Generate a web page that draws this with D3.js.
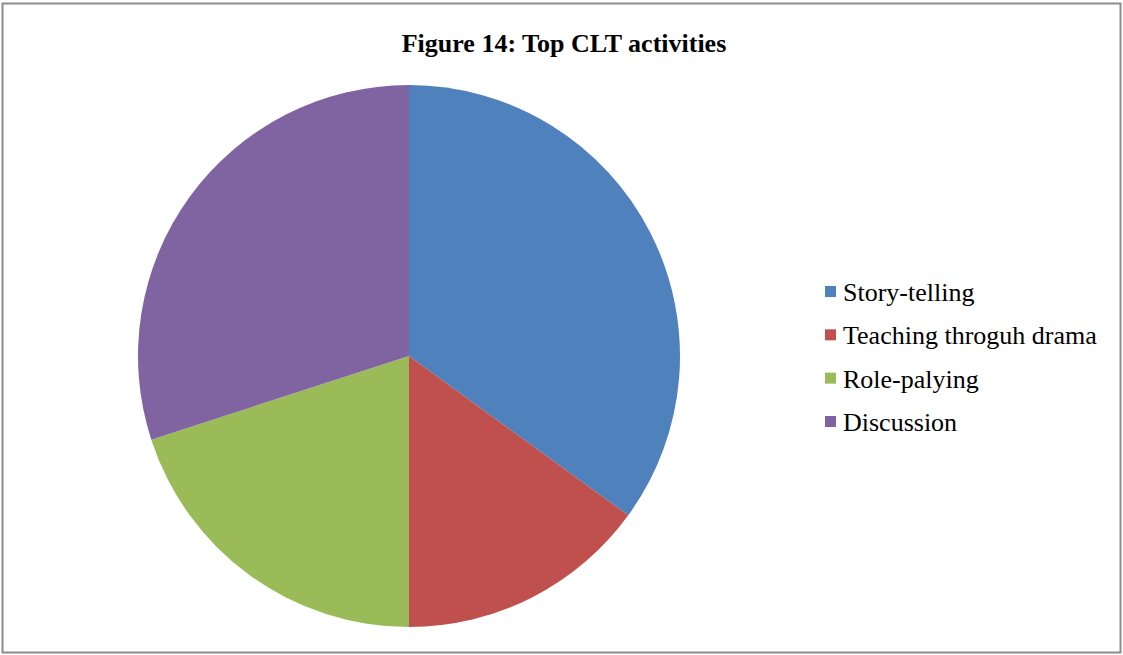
<!DOCTYPE html>
<html><head><meta charset="utf-8">
<script src="https://cdn.jsdelivr.net/npm/d3@7"></script>
<style>html,body{margin:0;padding:0;background:#fff;}</style>
</head><body>
<svg id="c" width="1123" height="655"></svg>
<script>
const categories = ["Story-telling","Teaching throguh drama","Role-palying","Discussion"];
const values = [35, 15, 20, 30];
const colors = ["#4F81BD","#C0504D","#9BBB59","#8064A2"];
const title = "Figure 14: Top CLT activities";

const FONT = "'Liberation Serif', 'Times New Roman', serif";
const svg = d3.select("#c");
svg.append("rect").attr("x",2.5).attr("y",3.5).attr("width",1118).attr("height",649)
  .attr("fill","#fff").attr("stroke","#8c8c8c").attr("stroke-width",2);

svg.append("text").attr("x",564).attr("y",52).attr("text-anchor","middle")
  .style("font-family",FONT).attr("font-weight","bold")
  .attr("font-size",26).attr("fill","#000").text(title);

const cx=409, cy=356, r=271;
const pie = d3.pie().sort(null).value(d=>d)(values);
const arc = d3.arc().innerRadius(0).outerRadius(r);
const color = d3.scaleOrdinal().domain(categories).range(colors);
svg.append("g").attr("transform",`translate(${cx},${cy})`)
  .selectAll("path").data(pie).join("path")
  .attr("d",arc).attr("fill",(d,i)=>color(categories[i]));

const leg = svg.append("g");
const y = d3.scalePoint().domain(categories).range([292,422]);
categories.forEach(c=>{
  const g = leg.append("g").attr("transform",`translate(825,${y(c)})`);
  g.append("rect").attr("x",0).attr("y",-6).attr("width",11).attr("height",11).attr("fill",color(c));
  g.append("text").attr("x",18).attr("y",9).style("font-family",FONT)
    .attr("font-size",26).attr("fill","#000").text(c);
});
</script>
</body></html>
